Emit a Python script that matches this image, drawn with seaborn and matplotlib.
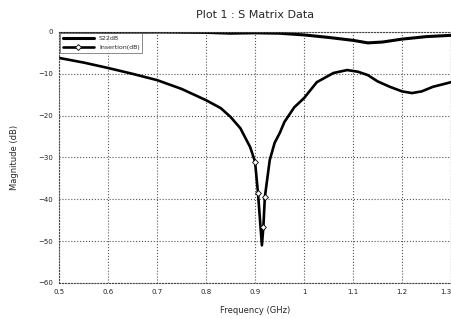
import matplotlib
matplotlib.use("Agg")
import matplotlib.pyplot as plt
import seaborn as sns
import pandas as pd

# Data
freq_s22 = [0.5, 0.6, 0.7, 0.8, 0.85, 0.9, 0.95, 1.0, 1.05, 1.1, 1.13, 1.16, 1.2, 1.25, 1.3]
mag_s22 = [0.0, -0.1, 0.0, -0.1, -0.3, -0.2, -0.3, -0.7, -1.3, -2.0, -2.6, -2.4, -1.7, -1.1, -0.8]

freq_ins = [0.5, 0.55, 0.6, 0.65, 0.7, 0.75, 0.8, 0.83, 0.85, 0.87, 0.89, 0.9, 0.906, 0.914,
            0.917, 0.92, 0.93, 0.94, 0.951, 0.96, 0.98, 1.0, 1.026, 1.06, 1.088, 1.11,
            1.13, 1.15, 1.175, 1.2, 1.22, 1.24, 1.263, 1.3]
mag_ins = [-6.2, -7.3, -8.6, -10.0, -11.5, -13.6, -16.3, -18.2, -20.3, -23.0, -27.5, -31.0, -38.5, -51.0,
           -46.6, -39.5, -30.6, -26.5, -24.0, -21.5, -18.0, -15.8, -12.0, -9.8, -9.1, -9.5,
           -10.3, -11.8, -13.1, -14.2, -14.6, -14.2, -13.1, -12.0]

labels = ["S22dB", "Insertion(dB)"]
x_ticks = [0.5, 0.6, 0.7, 0.8, 0.9, 1.0, 1.1, 1.2, 1.3]
x_tick_labels = ["0.5", "0.6", "0.7", "0.8", "0.9", "1", "1.1", "1.2", "1.3"]
y_ticks = [0, -10, -20, -30, -40, -50, -60]

sns.set_theme(style="white")
plt.rcParams["font.family"] = ["DejaVu Sans"]

fig = plt.figure(figsize=(4.52, 3.19), dpi=100)
ax = fig.add_axes([0.1305, 0.1129, 0.8675, 0.7868])

df1 = pd.DataFrame({"f": freq_s22, "m": mag_s22})
df2 = pd.DataFrame({"f": freq_ins, "m": mag_ins})

sns.lineplot(data=df1, x="f", y="m", ax=ax, color="black", linewidth=2.2,
             label=labels[0], sort=False)
sns.lineplot(data=df2, x="f", y="m", ax=ax, color="black", linewidth=1.9,
             label=labels[1], sort=False, marker="D", markersize=3,
             markerfacecolor="white", markeredgecolor="black", markeredgewidth=0.6,
             markevery=[11, 12, 14, 15])

ax.set_xlim(0.5, 1.3)
ax.set_ylim(-60, 0)
ax.set_xticks(x_ticks)
ax.set_xticklabels(x_tick_labels)
ax.set_yticks(y_ticks)
ax.grid(True, linestyle=":", color="#555555", linewidth=0.8)
for s in ax.spines.values():
    s.set_color("#444444")
    s.set_linewidth(0.8)
    s.set_linestyle(":")
ax.tick_params(axis="both", labelsize=5, colors="#222222", length=2, pad=2)
ax.get_xticklabels()[-1].set_horizontalalignment("right")

ax.set_xlabel("Frequency (GHz)", fontsize=6, labelpad=8)
ax.set_ylabel("Magnitude (dB)", fontsize=6, labelpad=14)
ax.set_title("Plot 1 : S Matrix Data", fontsize=8, pad=10)

leg = ax.legend(loc="upper left", fontsize=4.5, frameon=True, fancybox=False,
                borderaxespad=0.2, handlelength=5, borderpad=0.4, labelspacing=0.6)
leg.get_frame().set_edgecolor("#555555")
leg.get_frame().set_linewidth(0.6)

fig.savefig("out.png", dpi=100)
